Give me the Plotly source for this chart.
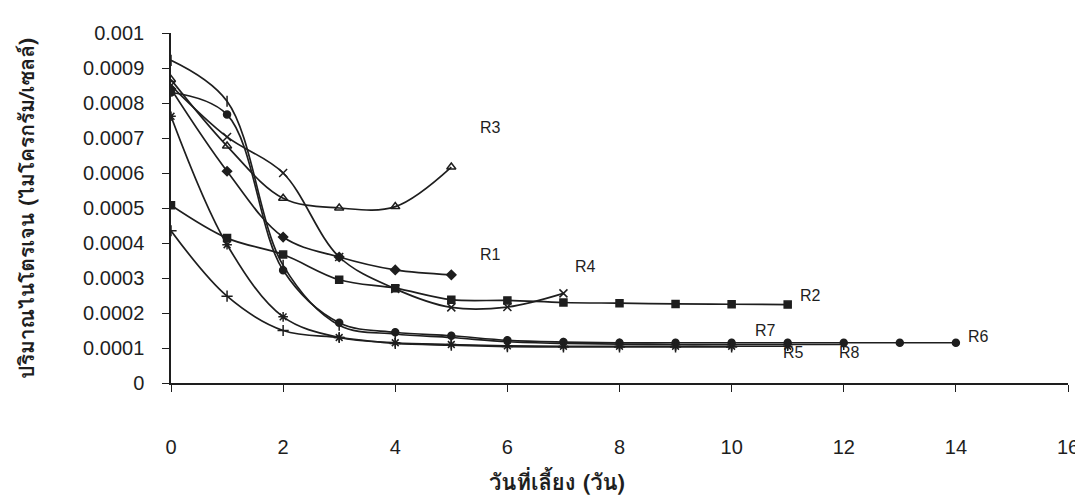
import plotly.graph_objects as go

# ---- data ----
days_r1 = [0, 1, 2, 3, 4, 5]
r1 = [0.00084, 0.000605, 0.000417, 0.00036, 0.000323, 0.000309]

days_r2 = [0, 1, 2, 3, 4, 5, 6, 7, 8, 9, 10, 11]
r2 = [0.000508, 0.000414, 0.000367, 0.000295, 0.000271, 0.000238, 0.000236,
      0.00023, 0.000228, 0.000226, 0.000225, 0.000224]

days_r3 = [0, 1, 2, 3, 4, 5]
r3 = [0.000867, 0.000677, 0.000528, 0.0005, 0.000504, 0.000617]

days_r4 = [0, 1, 2, 3, 4, 5, 6, 7]
r4 = [0.00085, 0.000703, 0.0006, 0.00036, 0.000269, 0.000216, 0.000217, 0.000256]

days_r5 = [0, 1, 2, 3, 4, 5, 6, 7, 8, 9, 10, 11]
r5 = [0.000762, 0.000395, 0.000189, 0.00013, 0.000115, 0.00011, 0.000106,
      0.000105, 0.000105, 0.000105, 0.000105, 0.000105]

days_r6 = [0, 1, 2, 3, 4, 5, 6, 7, 8, 9, 10, 11, 12, 13, 14]
r6 = [0.00083, 0.000767, 0.000322, 0.000172, 0.000145, 0.000135, 0.000122,
      0.000117, 0.000115, 0.000115, 0.000115, 0.000115, 0.000115, 0.000115, 0.000115]

days_r7 = [0, 1, 2, 3, 4, 5, 6, 7, 8, 9, 10]
r7 = [0.000435, 0.000248, 0.00015, 0.00013, 0.000113, 0.000108, 0.000104,
      0.000103, 0.000103, 0.000103, 0.000103]

days_r8 = [0, 1, 2, 3, 4, 5, 6, 7, 8, 9, 10, 11, 12]
r8 = [0.000922, 0.000805, 0.000336, 0.000165, 0.00014, 0.00013, 0.000118,
      0.000113, 0.000111, 0.00011, 0.00011, 0.00011, 0.00011]

series_names = ["R1", "R2", "R3", "R4", "R5", "R6", "R7", "R8"]

# label positions (data coords)
label_x = [5.7, 11.4, 5.7, 7.4, 11.1, 14.4, 10.6, 12.1]
label_y = [0.000366, 0.000249, 0.00073, 0.000334, 0.000086, 0.000134, 0.000151, 0.000086]

x_ticks = [0, 2, 4, 6, 8, 10, 12, 14, 16]
y_ticks = [0, 0.0001, 0.0002, 0.0003, 0.0004, 0.0005, 0.0006, 0.0007, 0.0008, 0.0009, 0.001]
y_ticktext = ["0", "0.0001", "0.0002", "0.0003", "0.0004", "0.0005", "0.0006",
              "0.0007", "0.0008", "0.0009", "0.001"]

xs = [days_r1, days_r2, days_r3, days_r4, days_r5, days_r6, days_r7, days_r8]
ys = [r1, r2, r3, r4, r5, r6, r7, r8]
symbols = ["diamond", "square", "triangle-up-open", "x-thin-open",
           "asterisk-open", "circle", "cross-thin-open", "line-ns-open"]
sizes = [7, 7, 8, 8, 8, 7, 8, 8]

INK = "#1e1e1e"
fig = go.Figure()
for x, y, name, sym, sz in zip(xs, ys, series_names, symbols, sizes):
    fig.add_trace(go.Scatter(
        x=x, y=y, name=name, mode="lines+markers",
        line=dict(color=INK, width=1.7, shape="spline", smoothing=1.0),
        marker=dict(symbol=sym, size=sz, color=INK,
                    line=dict(color=INK, width=1.5)),
        showlegend=False,
    ))

for name, lx, ly in zip(series_names, label_x, label_y):
    fig.add_annotation(x=lx, y=ly, text=name, showarrow=False,
                       font=dict(family="Liberation Sans, Arial", size=16, color=INK))

thai = "Loma, Garuda, Norasi, Noto Sans Thai Looped, Noto Sans Thai, Tlwg Typo, Kinnari, sans-serif"
fig.add_annotation(xref="paper", yref="paper", x=0.43, y=-0.285,
                   yanchor="middle", xanchor="center", showarrow=False,
                   text="<b>วันที่เลี้ยง (วัน)</b>",
                   font=dict(family=thai, size=22, color=INK))
fig.add_annotation(xref="paper", yref="paper", x=-0.162, y=0.5,
                   xanchor="center", yanchor="middle", showarrow=False,
                   textangle=-90,
                   text="<b>ปริมาณไนโตรเจน (ไมโครกรัม/เซลล์)</b>",
                   font=dict(family=thai, size=21, color=INK))

fig.update_layout(
    width=1083, height=498,
    margin=dict(l=163, r=17, t=25, b=123),
    paper_bgcolor="white", plot_bgcolor="white",
    font=dict(family="Liberation Sans, Arial", color=INK),
    xaxis=dict(range=[0, 16], tickvals=x_ticks, showgrid=False, zeroline=False,
               showline=True, linecolor=INK, linewidth=1.5,
               ticks="outside", ticklen=7, tickcolor=INK, tickwidth=1.2,
               ticklabelstandoff=38, tickfont=dict(size=20, color=INK)),
    yaxis=dict(range=[0, 0.001], tickvals=y_ticks, ticktext=y_ticktext,
               showgrid=False, zeroline=False,
               showline=True, linecolor=INK, linewidth=1.5,
               ticks="outside", ticklen=7, tickcolor=INK, tickwidth=1.2,
               ticklabelstandoff=14, tickfont=dict(size=20, color=INK)),
)

fig.write_html("out.html")
